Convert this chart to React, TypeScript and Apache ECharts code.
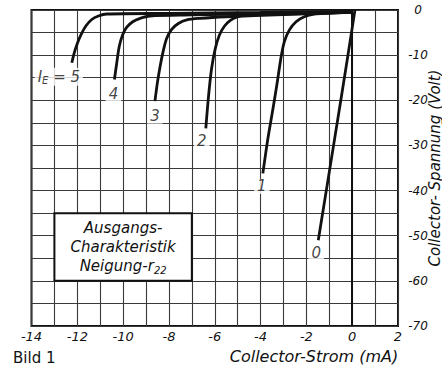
import React, { useEffect, useRef } from 'react';
import * as echarts from 'echarts';

// Collector current (mA) vs collector voltage (V) for emitter currents I_E = 0..5 mA
const emitterCurrents = ['0', '1', '2', '3', '4', '5'];

const curveIE0 = [[-1.48, -51], [-0.75, -28], [-0.2, -10.5], [0.12, 0]];
const curveIE1 = [[-3.9, -36.2], [-3.69, -28.8], [-3.47, -22.2], [-3.28, -16.3], [-3.1, -10.3], [-2.96, -7.0], [-2.74, -4.4], [-2.45, -2.6], [-2.09, -1.48], [-1.65, -0.89], [-1.0, -0.7], [0, -0.4]];
const curveIE2 = [[-6.39, -26.2], [-6.27, -19], [-6.14, -13], [-5.98, -8.6], [-5.8, -5.6], [-5.58, -3.6], [-5.32, -2.3], [-5.02, -1.55], [-4.65, -1.1], [-3, -0.9], [0, -0.5]];
const curveIE3 = [[-8.61, -20.2], [-8.51, -16.3], [-8.39, -12.6], [-8.24, -8.9], [-8.1, -6.3], [-7.88, -4.3], [-7.59, -3.0], [-7.22, -2.2], [-6.64, -1.85], [-5.5, -1.5], [-3, -1.0], [0, -0.5]];
const curveIE4 = [[-10.38, -15.4], [-10.28, -11.8], [-10.17, -8.1], [-10.02, -5.5], [-9.84, -3.8], [-9.58, -2.6], [-9.26, -1.85], [-8.83, -1.33], [-7, -1.1], [-4, -0.8], [0, -0.4]];
const curveIE5 = [[-12.24, -11.7], [-12.14, -9.6], [-12.0, -7.4], [-11.81, -5.2], [-11.62, -3.5], [-11.37, -2.1], [-11.08, -1.33], [-10.72, -0.89], [-8, -0.75], [-4, -0.55], [0, -0.3]];

const curves = [curveIE0, curveIE1, curveIE2, curveIE3, curveIE4, curveIE5];

const xMin = -14;
const xMax = 2;
const yMin = -70;
const yMax = 0;

// Info box corners in data coordinates
const boxFrom = [-13, -45];
const boxTo = [-7, -60];

const FONT = '"DejaVu Sans", "Noto Sans", sans-serif';
const INK = '#111';

const fmt = (v: number) => (v < 0 ? '-' + Math.abs(v) : String(v));

export default function App() {
  const ref = useRef<HTMLDivElement>(null);

  useEffect(() => {
    if (!ref.current) return;
    const chart = echarts.init(ref.current, undefined, { renderer: 'svg' });

    const labelOffsets: Record<number, number[]> = {
      0: [-2, 13],
      1: [-1, 13],
      2: [-4, 13],
      3: [0, 15],
      4: [-1, 14],
      5: [-13, 14],
    };

    const lineSeries = curves.map((c, i) => ({
      type: 'line',
      name: 'IE ' + emitterCurrents[i],
      data: c,
      showSymbol: false,
      symbol: 'none',
      smooth: 0.3,
      lineStyle: { color: INK, width: 2.8 },
      z: 5,
    }));

    const labelData = curves.map((c, i) => ({
      value: c[0],
      name: emitterCurrents[i],
      label: {
        show: true,
        position: 'inside',
        offset: labelOffsets[i],
        formatter: i === 5 ? '{n|I}{s|E}{n| = ' + emitterCurrents[i] + '}' : emitterCurrents[i],
      },
    }));

    const option: any = {
      animation: false,
      backgroundColor: '#fff',
      grid: {
        left: 31.5,
        right: 44,
        top: 10,
        bottom: 42,
        outerBoundsMode: 'none',
        containLabel: false,
        show: true,
        borderColor: INK,
        borderWidth: 2,
        backgroundColor: 'transparent',
      },
      xAxis: {
        type: 'value',
        min: xMin,
        max: xMax,
        interval: 1,
        axisLine: { show: false },
        axisTick: { show: false },
        splitLine: { show: true, lineStyle: { color: '#3a3a3a', width: 1.1 } },
        axisLabel: {
          formatter: (v: number) => (v % 2 === 0 ? fmt(v) : ''),
          margin: 4,
          fontSize: 13,
          fontStyle: 'italic',
          fontFamily: FONT,
          color: INK,
        },
      },
      yAxis: {
        type: 'value',
        position: 'right',
        min: yMin,
        max: yMax,
        interval: 5,
        axisLine: { show: false },
        axisTick: { show: false },
        splitLine: { show: true, lineStyle: { color: '#3a3a3a', width: 1.1 } },
        axisLabel: {
          formatter: (v: number) => (v % 10 === 0 ? fmt(v) : ''),
          align: 'center',
          margin: 20,
          fontSize: 12,
          fontStyle: 'italic',
          fontFamily: FONT,
          color: INK,
        },
        name: 'Collector- Spannung (Volt)',
        nameLocation: 'middle',
        nameRotate: 90,
        nameGap: 29,
        nameMoveOverlap: false,
        nameTextStyle: {
          fontSize: 15,
          fontStyle: 'italic',
          fontFamily: FONT,
          color: INK,
        },
      },
      graphic: [
        {
          type: 'text',
          x: 314,
          y: 356,
          style: {
            text: 'Collector-Strom (mA)',
            font: 'italic 16px ' + FONT,
            fill: INK,
            textAlign: 'center',
            textVerticalAlign: 'middle',
          },
        },
        {
          type: 'text',
          x: 13,
          y: 350,
          style: {
            text: 'Bild 1',
            font: '15px ' + FONT,
            fill: INK,
            textAlign: 'left',
            textVerticalAlign: 'top',
          },
        },
      ],
      series: [
        ...lineSeries,
        {
          type: 'scatter',
          name: 'labels',
          data: labelData,
          symbolSize: 1,
          itemStyle: { color: 'rgba(0,0,0,0)' },
          z: 6,
          label: {
            fontSize: 15,
            fontStyle: 'italic',
            fontFamily: FONT,
            color: INK,
            backgroundColor: '#fff',
            padding: [0, 3],
            rich: {
              n: { fontSize: 15, fontStyle: 'italic', fontFamily: FONT, color: INK, lineHeight: 18 },
              s: { fontSize: 10, fontStyle: 'italic', fontFamily: FONT, color: INK, verticalAlign: 'bottom', lineHeight: 18 },
            },
          },
          markLine: {
            silent: true,
            symbol: 'none',
            label: { show: false },
            lineStyle: { color: INK, width: 2, type: 'solid' },
            data: [{ xAxis: 0 }],
          },
          markArea: {
            silent: true,
            itemStyle: { color: '#fff', borderColor: INK, borderWidth: 2 },
            label: {
              show: true,
              position: 'inside',
              formatter: 'Ausgangs-\nCharakteristik\nNeigung-r{s|22}',
              fontSize: 15,
              fontStyle: 'italic',
              fontFamily: FONT,
              color: INK,
              lineHeight: 19,
              align: 'center',
              rich: {
                s: { fontSize: 10, fontStyle: 'italic', fontFamily: FONT, color: INK, verticalAlign: 'bottom', lineHeight: 19 },
              },
            },
            data: [[{ coord: boxFrom }, { coord: boxTo }]],
          },
        },
      ],
    };

    chart.setOption(option);
    return () => chart.dispose();
  }, []);

  return (
    <div
      ref={ref}
      style={{ position: 'fixed', left: 0, top: 0, width: 442, height: 368, background: '#fff' }}
    />
  );
}
